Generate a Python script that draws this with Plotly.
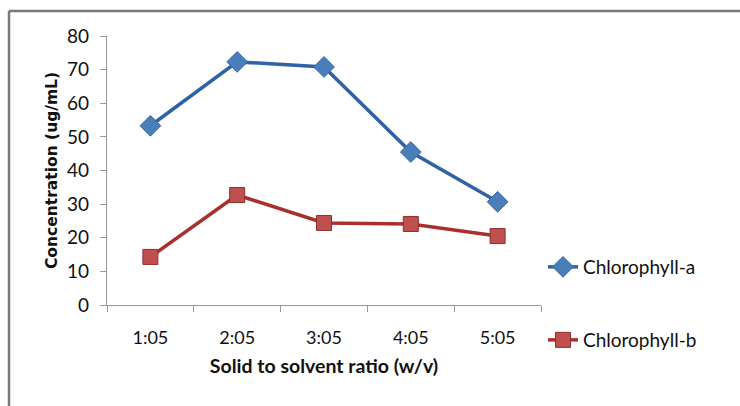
import plotly.graph_objects as go

categories = ["1:05", "2:05", "3:05", "4:05", "5:05"]
chl_a = [53.3, 72.3, 70.8, 45.5, 30.7]
chl_b = [14.3, 32.7, 24.4, 24.1, 20.5]
y_ticks = [0, 10, 20, 30, 40, 50, 60, 70, 80]

FONT = "Lato, Open Sans, sans-serif"

fig = go.Figure()
fig.add_trace(go.Scatter(
    x=categories, y=chl_a, name="Chlorophyll-a", mode="lines+markers",
    line=dict(color="#2F63A6", width=3.5),
    marker=dict(symbol="diamond", size=16, color="#4A7EBB", line=dict(color="#3A6AA5", width=1)),
    legend="legend",
))
fig.add_trace(go.Scatter(
    x=categories, y=chl_b, name="Chlorophyll-b", mode="lines+markers",
    line=dict(color="#A8302D", width=3.5),
    marker=dict(symbol="square", size=15, color="#C0504D", line=dict(color="#8E2E2B", width=1)),
    legend="legend2",
))

L, R, T, B = 107, 541, 36, 305
W, H = 740, 406
pw, ph = R - L, B - T

def px_to_paper_x(px):
    return (px - L) / pw

def px_to_paper_y(py):
    return (B - py) / ph

fig.update_layout(
    width=W, height=H,
    margin=dict(l=L, r=W - R, t=T, b=H - B),
    paper_bgcolor="white", plot_bgcolor="white",
    font=dict(family=FONT, size=18, color="#111"),
    showlegend=True,
    legend=dict(x=px_to_paper_x(543), y=px_to_paper_y(267), xanchor="left", yanchor="middle",
                font=dict(family=FONT, size=19, color="#111"), bgcolor="rgba(0,0,0,0)"),
    legend2=dict(x=px_to_paper_x(543), y=px_to_paper_y(340), xanchor="left", yanchor="middle",
                 font=dict(family=FONT, size=19, color="#111"), bgcolor="rgba(0,0,0,0)"),
    xaxis=dict(
        type="category", tickson="boundaries", ticks="outside", ticklen=6, tickcolor="#999",
        showline=True, linecolor="#999", linewidth=1.3, showgrid=False, zeroline=False,
        ticklabelstandoff=16, tickfont=dict(family=FONT, size=18, color="#111"),
        title=dict(text="<b>Solid to solvent ratio (w/v)</b>", standoff=12,
                   font=dict(family=FONT, size=19.5, color="#111")),
        range=[-0.5, 4.5],
    ),
    yaxis=dict(
        range=[0, 80], tickvals=y_ticks, ticks="outside", ticklen=6, tickcolor="#999",
        showline=True, linecolor="#999", linewidth=1.3, showgrid=False, zeroline=False,
        ticklabelstandoff=7, tickfont=dict(family=FONT, size=19, color="#111"),
        title=dict(text="<b>Concentration (ug/mL)</b>", standoff=5,
                   font=dict(family="DejaVu Sans, sans-serif", size=15.5, color="#111")),
    ),
    shapes=[
        dict(type="line", xref="paper", yref="paper",
             x0=px_to_paper_x(9), x1=px_to_paper_x(760), y0=px_to_paper_y(11), y1=px_to_paper_y(11),
             line=dict(color="#7a7a7a", width=2.5)),
        dict(type="line", xref="paper", yref="paper",
             x0=px_to_paper_x(9), x1=px_to_paper_x(9), y0=px_to_paper_y(11), y1=px_to_paper_y(420),
             line=dict(color="#7a7a7a", width=2.5)),
    ],
)

fig.write_html("out.html")
